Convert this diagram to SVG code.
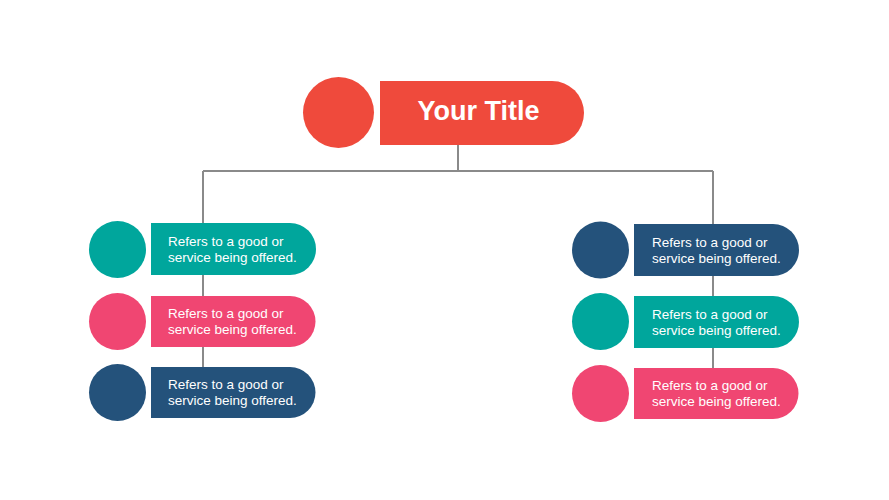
<svg xmlns="http://www.w3.org/2000/svg" width="889" height="500" viewBox="0 0 889 500">
<style>
.ln{stroke:#8a8a8a;stroke-width:2;fill:none}
.red{fill:#ef4a3c}.teal{fill:#00a69c}.pink{fill:#f04672}.navy{fill:#24527b}
.t{font-family:"Liberation Sans",Arial,sans-serif;font-size:13.5px;fill:#ffffff}
.tt{font-family:"Liberation Sans",Arial,sans-serif;font-size:27px;font-weight:bold;fill:#ffffff}
</style>
<rect width="889" height="500" fill="#ffffff"/>
<g id="connectors">
<path class="ln" d="M458 145V171M203 171H713M203 171V367M713 171V368"/>
</g>
<g id="title">
<circle class="red" cx="338.5" cy="112.5" r="35.5"/>
<path class="red" d="M380 81H552A32 32 0 0 1 552 145H380Z"/>
<text class="tt" x="478.5" y="119.5" text-anchor="middle">Your Title</text>
</g>
<g id="left1">
<circle class="teal" cx="117.5" cy="249.5" r="28.5"/>
<path class="teal" d="M151 223H290A26 26 0 0 1 290 275H151Z"/>
<text class="t" x="168" y="245.5">Refers to a good or</text>
<text class="t" x="168" y="261.5">service being offered.</text>
</g>
<g id="left2">
<circle class="pink" cx="117.5" cy="321.5" r="28.5"/>
<path class="pink" d="M151 296H290A25.5 25.5 0 0 1 290 347H151Z"/>
<text class="t" x="168" y="318">Refers to a good or</text>
<text class="t" x="168" y="334">service being offered.</text>
</g>
<g id="left3">
<circle class="navy" cx="117.5" cy="392.5" r="28.5"/>
<path class="navy" d="M151 367H290A25.5 25.5 0 0 1 290 418H151Z"/>
<text class="t" x="168" y="389">Refers to a good or</text>
<text class="t" x="168" y="405">service being offered.</text>
</g>
<g id="right1">
<circle class="navy" cx="600.5" cy="250" r="28.5"/>
<path class="navy" d="M634 224H773A26 26 0 0 1 773 276H634Z"/>
<text class="t" x="652" y="246.5">Refers to a good or</text>
<text class="t" x="652" y="262.5">service being offered.</text>
</g>
<g id="right2">
<circle class="teal" cx="600.5" cy="321.5" r="28.5"/>
<path class="teal" d="M634 296H773A26 26 0 0 1 773 348H634Z"/>
<text class="t" x="652" y="318.5">Refers to a good or</text>
<text class="t" x="652" y="334.5">service being offered.</text>
</g>
<g id="right3">
<circle class="pink" cx="600.5" cy="393.5" r="28.5"/>
<path class="pink" d="M634 368H773A25.5 25.5 0 0 1 773 419H634Z"/>
<text class="t" x="652" y="390">Refers to a good or</text>
<text class="t" x="652" y="406">service being offered.</text>
</g>
</svg>
